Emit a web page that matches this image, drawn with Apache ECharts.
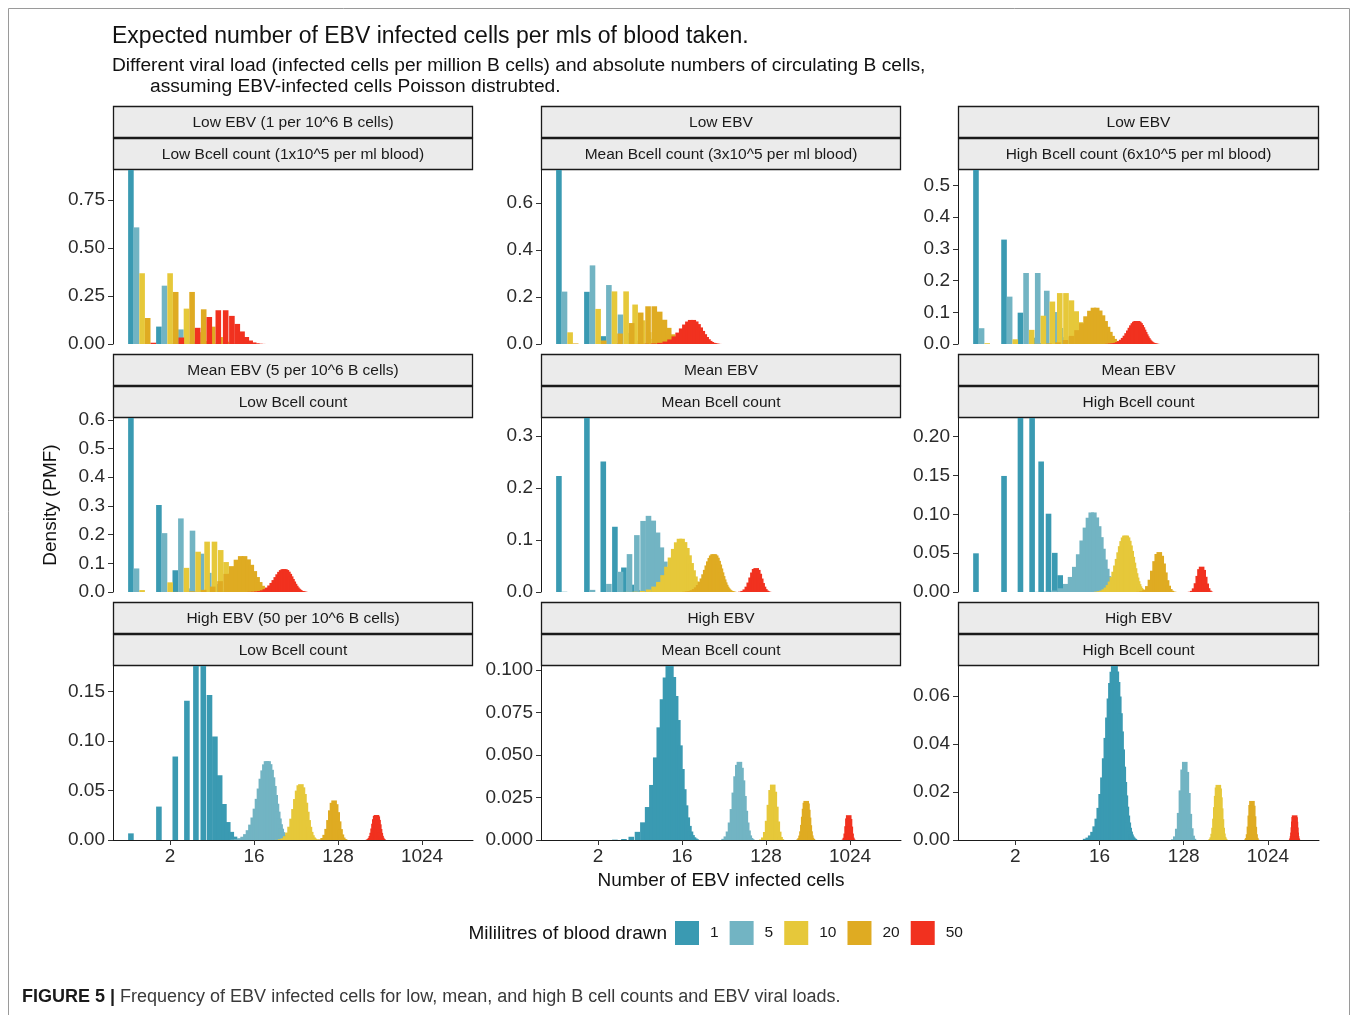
<!DOCTYPE html>
<html>
<head>
<meta charset="utf-8">
<script src="https://cdn.jsdelivr.net/npm/echarts@6/dist/echarts.min.js"></script>
<style>
  html, body { margin: 0; padding: 0; background: #ffffff; }
  #chart { width: 1357px; height: 1015px; }
</style>
</head>
<body>
<div id="chart"></div>
<script>
// Volumes of blood drawn (ml), one coloured series each
const mlDrawn = ['1', '5', '10', '20', '50'];
const palette = ['#3A9AB2', '#72B4C3', '#E6C83A', '#DFAB22', '#F1311F'];

// Probability of k infected cells, grouped by expected count.
// from = first k, step = spacing between listed k, p = probabilities.
const mean0_1 = { from: 0, step: 1, p: [0.9048, 0.0905, 0.0045] };
const mean0_3 = { from: 0, step: 1, p: [0.7408, 0.2222, 0.0333, 0.0033] };
const mean0_5 = { from: 0, step: 1, p: [0.6065, 0.3033, 0.0758, 0.0126, 0.0016] };
const mean0_6 = { from: 0, step: 1, p: [0.5488, 0.3293, 0.0988, 0.0198, 0.0030, 0.0004] };
const mean1 = { from: 0, step: 1, p: [0.3679, 0.3679, 0.1839, 0.0613, 0.0153, 0.0031, 0.0005] };
const mean1_5 = { from: 0, step: 1, p: [0.2231, 0.3347, 0.2510, 0.1255, 0.0471, 0.0141, 0.0035, 0.0008] };
const mean2 = { from: 0, step: 1, p: [0.1353, 0.2707, 0.2707, 0.1804, 0.0902, 0.0361, 0.0120, 0.0034, 0.0009] };
const mean2_5 = { from: 0, step: 1, p: [0.0821, 0.2052, 0.2565, 0.2138, 0.1336, 0.0668, 0.0278, 0.0099, 0.0031, 0.0009] };
const mean3 = { from: 0, step: 1, p: [0.0498, 0.1494, 0.2240, 0.2240, 0.1680, 0.1008, 0.0504, 0.0216, 0.0081, 0.0027, 0.0008] };
const mean5 = { from: 0, step: 1, p: [0.0067, 0.0337, 0.0842, 0.1404, 0.1755, 0.1755, 0.1462, 0.1044, 0.0653, 0.0363, 0.0181, 0.0082, 0.0034, 0.0013, 0.0005] };
const mean6 = { from: 0, step: 1, p: [0.0025, 0.0149, 0.0446, 0.0892, 0.1339, 0.1606, 0.1606, 0.1377, 0.1033, 0.0688, 0.0413, 0.0225, 0.0113, 0.0052, 0.0022, 0.0009, 0.0003] };
const mean7_5 = { from: 0, step: 1, p: [0.0006, 0.0041, 0.0156, 0.0389, 0.0729, 0.1094, 0.1367, 0.1465, 0.1373, 0.1144, 0.0858, 0.0585, 0.0366, 0.0211, 0.0113, 0.0057, 0.0026, 0.0012, 0.0005] };
const mean10 = { from: 1, step: 1, p: [0.0005, 0.0023, 0.0076, 0.0189, 0.0378, 0.0631, 0.0901, 0.1126, 0.1251, 0.1251, 0.1137, 0.0948, 0.0729, 0.0521, 0.0347, 0.0217, 0.0128, 0.0071, 0.0037, 0.0019, 0.0009, 0.0004] };
const mean12 = { from: 2, step: 1, p: [0.0004, 0.0018, 0.0053, 0.0127, 0.0255, 0.0437, 0.0655, 0.0874, 0.1048, 0.1144, 0.1144, 0.1056, 0.0905, 0.0724, 0.0543, 0.0383, 0.0256, 0.0161, 0.0097, 0.0055, 0.0030, 0.0016, 0.0008, 0.0004] };
const mean15 = { from: 3, step: 1, p: [0.0002, 0.0006, 0.0019, 0.0048, 0.0104, 0.0194, 0.0324, 0.0486, 0.0663, 0.0829, 0.0956, 0.1024, 0.1024, 0.0960, 0.0847, 0.0706, 0.0557, 0.0418, 0.0299, 0.0204, 0.0133, 0.0083, 0.0050, 0.0029, 0.0016, 0.0009, 0.0004] };
const mean25 = { from: 10, step: 1, p: [0.0004, 0.0008, 0.0017, 0.0033, 0.0059, 0.0099, 0.0155, 0.0227, 0.0316, 0.0415, 0.0519, 0.0618, 0.0702, 0.0763, 0.0795, 0.0795, 0.0765, 0.0708, 0.0632, 0.0545, 0.0454, 0.0366, 0.0286, 0.0217, 0.0159, 0.0114, 0.0079, 0.0053, 0.0035, 0.0023, 0.0014, 0.0009, 0.0005] };
const mean30 = { from: 14, step: 1, p: [0.0005, 0.0010, 0.0019, 0.0034, 0.0057, 0.0089, 0.0134, 0.0192, 0.0261, 0.0341, 0.0426, 0.0511, 0.0590, 0.0655, 0.0702, 0.0726, 0.0726, 0.0703, 0.0659, 0.0599, 0.0529, 0.0453, 0.0378, 0.0306, 0.0242, 0.0186, 0.0139, 0.0102, 0.0073, 0.0051, 0.0035, 0.0023, 0.0015, 0.0010, 0.0006, 0.0004] };
const mean50 = { from: 28, step: 2, p: [0.0002, 0.0007, 0.0017, 0.0038, 0.0075, 0.0134, 0.0215, 0.0312, 0.0413, 0.0498, 0.0552, 0.0563, 0.0531, 0.0464, 0.0376, 0.0285, 0.0201, 0.0133, 0.0082, 0.0048, 0.0026, 0.0014, 0.0007, 0.0003] };
const mean60 = { from: 36, step: 3, p: [0.0002, 0.0010, 0.0030, 0.0076, 0.0158, 0.0274, 0.0397, 0.0489, 0.0514, 0.0466, 0.0367, 0.0252, 0.0152, 0.0081, 0.0038, 0.0016, 0.0006, 0.0002] };
const mean75 = { from: 51, step: 3, p: [0.0007, 0.0021, 0.0050, 0.0103, 0.0182, 0.0279, 0.0375, 0.0442, 0.0460, 0.0425, 0.0351, 0.0259, 0.0172, 0.0103, 0.0056, 0.0027, 0.0012, 0.0005] };
const mean100 = { from: 72, step: 4, p: [0.0006, 0.0020, 0.0052, 0.0112, 0.0201, 0.0299, 0.0375, 0.0399, 0.0361, 0.0281, 0.0188, 0.0110, 0.0056, 0.0025, 0.0010, 0.0003] };
const mean150 = { from: 114, step: 6, p: [0.0003, 0.0015, 0.0047, 0.0113, 0.0207, 0.0294, 0.0326, 0.0284, 0.0196, 0.0109, 0.0049, 0.0018, 0.0005] };
const mean250 = { from: 205, step: 5, p: [0.0004, 0.0009, 0.0021, 0.0041, 0.0073, 0.0116, 0.0164, 0.0210, 0.0242, 0.0252, 0.0238, 0.0203, 0.0158, 0.0111, 0.0072, 0.0042, 0.0023, 0.0011, 0.0005] };
const mean300 = { from: 252, step: 6, p: [0.0004, 0.0011, 0.0026, 0.0051, 0.0089, 0.0137, 0.0184, 0.0219, 0.0230, 0.0215, 0.0178, 0.0132, 0.0087, 0.0051, 0.0027, 0.0013, 0.0006, 0.0002] };
const mean600 = { from: 528, step: 12, p: [0.0002, 0.0008, 0.0024, 0.0056, 0.0102, 0.0146, 0.0163, 0.0143, 0.0099, 0.0055, 0.0024, 0.0009, 0.0002] };
const mean750 = { from: 675, step: 15, p: [0.0003, 0.0013, 0.0038, 0.0081, 0.0127, 0.0146, 0.0124, 0.0079, 0.0038, 0.0014, 0.0004] };
const mean1500 = { from: 1395, step: 15, p: [0.0002, 0.0007, 0.0016, 0.0031, 0.0053, 0.0077, 0.0096, 0.0103, 0.0095, 0.0076, 0.0052, 0.0031, 0.0016, 0.0007, 0.0003] };

// Tick values
const xTicks = [2, 16, 128, 1024];
const yTicksLowLow = [0, 0.25, 0.5, 0.75];
const yTicksLowMean = [0, 0.2, 0.4, 0.6];
const yTicksLowHigh = [0, 0.1, 0.2, 0.3, 0.4, 0.5];
const yTicksMeanLow = [0, 0.1, 0.2, 0.3, 0.4, 0.5, 0.6];
const yTicksMeanMean = [0, 0.1, 0.2, 0.3];
const yTicksMeanHigh = [0, 0.05, 0.1, 0.15, 0.2];
const yTicksHighLow = [0, 0.05, 0.1, 0.15];
const yTicksHighMean = [0, 0.025, 0.05, 0.075, 0.1];
const yTicksHighHigh = [0, 0.02, 0.04, 0.06];

// Facets: viral load (rows) x B cell count (columns)
const panels = [
  { s1: 'Low EBV (1 per 10^6 B cells)', s2: 'Low Bcell count (1x10^5 per ml blood)', dists: [mean0_1, mean0_5, mean1, mean2, mean5], ticks: yTicksLowLow },
  { s1: 'Low EBV', s2: 'Mean Bcell count (3x10^5 per ml blood)', dists: [mean0_3, mean1_5, mean3, mean6, mean15], ticks: yTicksLowMean },
  { s1: 'Low EBV', s2: 'High Bcell count (6x10^5 per ml blood)', dists: [mean0_6, mean3, mean6, mean12, mean30], ticks: yTicksLowHigh },
  { s1: 'Mean EBV (5 per 10^6 B cells)', s2: 'Low Bcell count', dists: [mean0_5, mean2_5, mean5, mean10, mean25], ticks: yTicksMeanLow },
  { s1: 'Mean EBV', s2: 'Mean Bcell count', dists: [mean1_5, mean7_5, mean15, mean30, mean75], ticks: yTicksMeanMean },
  { s1: 'Mean EBV', s2: 'High Bcell count', dists: [mean3, mean15, mean30, mean60, mean150], ticks: yTicksMeanHigh },
  { s1: 'High EBV (50 per 10^6 B cells)', s2: 'Low Bcell count', dists: [mean5, mean25, mean50, mean100, mean250], ticks: yTicksHighLow },
  { s1: 'High EBV', s2: 'Mean Bcell count', dists: [mean15, mean75, mean150, mean300, mean750], ticks: yTicksHighMean },
  { s1: 'High EBV', s2: 'High Bcell count', dists: [mean30, mean150, mean300, mean600, mean1500], ticks: yTicksHighHigh }
];

const FONT = '"Liberation Sans", Arial, Helvetica, sans-serif';
const colLeft = [113, 541, 958];
const colWidth = [360, 360, 361];
const rowTop = [170, 418, 666];
const panelHeight = 174;
const stripHeight = 31;

// x axis limits (log2 scale)
const xMin = Math.pow(2, -1.04);
const xMax = Math.pow(2, 11.82);

// Bars for the five volumes are dodged side by side; offsets and width in doublings
const dodge = [-0.4, -0.2, 0, 0.2, 0.4];
const barHalf = 0.1;

function makeBars(offset) {
  return function (params, api) {
    const x = api.value(0);
    const p = api.value(1);
    const topLeft = api.coord([x * Math.pow(2, offset - barHalf), p]);
    const bottomRight = api.coord([x * Math.pow(2, offset + barHalf), 0]);
    return {
      type: 'rect',
      shape: {
        x: topLeft[0],
        y: topLeft[1],
        width: bottomRight[0] - topLeft[0],
        height: bottomRight[1] - topLeft[1]
      },
      style: { fill: api.visual('color') }
    };
  };
}

function decimals(ticks) {
  return Math.max.apply(null, ticks.map(function (t) {
    const s = String(t).split('.')[1];
    return s ? s.length : 0;
  }));
}

const grids = [], xAxes = [], yAxes = [], series = [];
const graphics = [];

panels.forEach(function (panel, idx) {
  const r = Math.floor(idx / 3), c = idx % 3;
  const left = colLeft[c], top = rowTop[r], width = colWidth[c];
  grids.push({ left: left, top: top, width: width, height: panelHeight, containLabel: false });

  const bottomRow = r === 2;
  xAxes.push({
    gridIndex: idx,
    type: 'log',
    logBase: 2,
    min: xMin,
    max: xMax,
    axisLine: { show: bottomRow, onZero: false, lineStyle: { color: '#1a1a1a', width: 1 } },
    axisTick: { show: bottomRow, length: 5, customValues: xTicks, lineStyle: { color: '#333333' } },
    axisLabel: {
      show: bottomRow,
      customValues: xTicks,
      formatter: function (v) { return String(Math.round(v)); },
      fontFamily: FONT, fontSize: 19, color: '#2b2b2b', margin: 7
    },
    splitLine: { show: false },
    minorTick: { show: false }
  });

  let yMax = 0;
  panel.dists.forEach(function (d) { d.p.forEach(function (v) { if (v > yMax) yMax = v; }); });
  const dp = decimals(panel.ticks);
  yAxes.push({
    gridIndex: idx,
    type: 'value',
    min: 0,
    max: yMax,
    axisLine: { show: true, lineStyle: { color: '#1a1a1a', width: 1 } },
    axisTick: { show: true, length: 5, customValues: panel.ticks, lineStyle: { color: '#333333' } },
    axisLabel: {
      customValues: panel.ticks,
      formatter: function (v) { return Number(v).toFixed(dp); },
      fontFamily: FONT, fontSize: 19, color: '#2b2b2b', margin: 8
    },
    splitLine: { show: false }
  });

  panel.dists.forEach(function (d, i) {
    series.push({
      type: 'custom',
      name: mlDrawn[i],
      xAxisIndex: idx,
      yAxisIndex: idx,
      clip: true,
      silent: true,
      itemStyle: { color: palette[i] },
      encode: { x: 0, y: 1 },
      renderItem: makeBars(dodge[i]),
      // counts sit on a log2 axis, so count k is placed at k + 1
      data: d.p.map(function (v, j) { return [d.from + j * d.step + 1, v]; })
    });
  });

  // facet strips
  [panel.s1, panel.s2].forEach(function (label, s) {
    const y = top - 2 * (stripHeight + 1) + s * (stripHeight + 1);
    graphics.push({
      type: 'rect', silent: true,
      shape: { x: left + 0.5, y: y + 0.5, width: width - 1, height: stripHeight },
      style: { fill: '#ebebeb', stroke: '#1a1a1a', lineWidth: 1.3 }
    });
    graphics.push({
      type: 'text', silent: true,
      x: left + width / 2, y: y + stripHeight / 2 + 1,
      style: { text: label, align: 'center', verticalAlign: 'middle', fontFamily: FONT, fontSize: 15.5, fill: '#1a1a1a' }
    });
  });
});

// frame around the figure
graphics.push({
  type: 'polyline', silent: true,
  shape: { points: [[8.5, 1015], [8.5, 8.5], [1349.5, 8.5], [1349.5, 1015]] },
  style: { stroke: '#9a9a9a', lineWidth: 1, fill: null }
});

// titles
graphics.push({
  type: 'text', silent: true, x: 112, y: 37,
  style: { text: 'Expected number of EBV infected cells per mls of blood taken.', align: 'left', verticalAlign: 'middle', fontFamily: FONT, fontSize: 23, fill: '#111111' }
});
graphics.push({
  type: 'text', silent: true, x: 112, y: 66,
  style: { text: 'Different viral load (infected cells per million B cells) and absolute numbers of circulating B cells,', align: 'left', verticalAlign: 'middle', fontFamily: FONT, fontSize: 19.2, fill: '#111111' }
});
graphics.push({
  type: 'text', silent: true, x: 150, y: 87,
  style: { text: 'assuming EBV-infected cells Poisson distrubted.', align: 'left', verticalAlign: 'middle', fontFamily: FONT, fontSize: 19.2, fill: '#111111' }
});

// axis titles
graphics.push({
  type: 'text', silent: true, x: 51, y: 505, rotation: Math.PI / 2,
  style: { text: 'Density (PMF)', align: 'center', verticalAlign: 'middle', fontFamily: FONT, fontSize: 19, fill: '#111111' }
});
graphics.push({
  type: 'text', silent: true, x: 721, y: 881,
  style: { text: 'Number of EBV infected cells', align: 'center', verticalAlign: 'middle', fontFamily: FONT, fontSize: 19, fill: '#111111' }
});

// legend title
graphics.push({
  type: 'text', silent: true, x: 667, y: 934,
  style: { text: 'Mililitres of blood drawn', align: 'right', verticalAlign: 'middle', fontFamily: FONT, fontSize: 19, fill: '#111111' }
});

// figure caption
graphics.push({
  type: 'text', silent: true, x: 22, y: 997,
  style: {
    text: '{b|FIGURE 5 |} Frequency of EBV infected cells for low, mean, and high B cell counts and EBV viral loads.',
    align: 'left', verticalAlign: 'middle', fontFamily: FONT, fontSize: 18, fill: '#3a3a3a',
    rich: { b: { fontWeight: 'bold', fontFamily: FONT, fontSize: 18, fill: '#1a1a1a' } }
  }
});

const chart = echarts.init(document.getElementById('chart'), null, { renderer: 'canvas' });
chart.setOption({
  backgroundColor: '#ffffff',
  animation: false,
  grid: grids,
  xAxis: xAxes,
  yAxis: yAxes,
  legend: {
    data: mlDrawn,
    left: 675,
    top: 921,
    padding: 0,
    orient: 'horizontal',
    icon: 'rect',
    itemWidth: 24,
    itemHeight: 24,
    itemGap: 11,
    selectedMode: false,
    textStyle: { fontFamily: FONT, fontSize: 15.5, color: '#1a1a1a', padding: [0, 0, 0, 6] }
  },
  series: series,
  graphic: graphics
});
</script>
</body>
</html>
